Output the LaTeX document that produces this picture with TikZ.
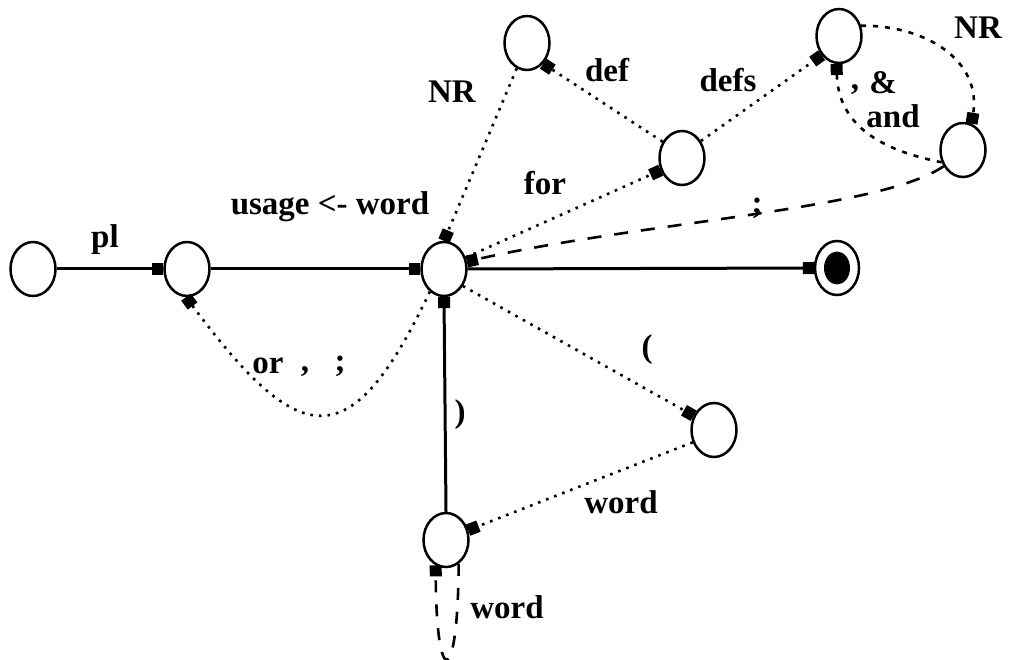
\documentclass[tikz,border=0pt]{standalone}
\usepackage{fontspec}
\setmainfont{Liberation Serif}
\usetikzlibrary{arrows.meta,shapes.geometric}
\begin{document}
\begin{tikzpicture}[x=1pt,y=-1pt,
  st/.style={draw,line width=2.5pt,ellipse,minimum width=45pt,minimum height=54pt,inner sep=0pt,outer sep=1.2pt},
  fin/.style={draw,line width=2.5pt,ellipse,minimum width=44pt,minimum height=54pt,inner sep=0pt,outer sep=1.2pt},
  tr/.style={line width=2.6pt,-{Square[length=11pt,width=12pt]}},
  sol/.style={tr,line width=3pt},
  dot/.style={tr,dash pattern=on 2.6pt off 6pt},
  dsh/.style={tr,dash pattern=on 14pt off 13pt},
  ddsh/.style={tr,dash pattern=on 5pt off 7pt},
  lab/.style={font=\bfseries\fontsize{33}{33}\selectfont,inner sep=0pt}]
\useasboundingbox (0,0) rectangle (1013,660);
\clip (0,0) rectangle (1013,660);
% states
\node[st] (A) at (33,269) {};
\node[st] (B) at (187,269) {};
\node[st] (C) at (444,269) {};
\node[fin] (Fin) at (837,268) {};
\node[fill,ellipse,minimum width=26pt,minimum height=33pt,inner sep=0pt] (Fdot) at (Fin.center) {};
\node[st] (D) at (527,43) {};
\node[st] (E) at (682,158) {};
\node[st] (F) at (839,36) {};
\node[st] (G) at (963,150) {};
\node[st] (H) at (714,430) {};
\node[st] (I) at (446,540) {};
\coordinate (loopA) at (458,690);
\coordinate (loopB) at (436,690);
% transitions
\draw[sol] (A.east) -- (B.west);
\draw[sol] (B.east) -- (C.west);
\draw[sol] (C.east) -- (Fin.west);
\draw[dot] (D.-112) -- (C.north);
\draw[dot] (E.140) -- (D.-52);
\draw[dot] (C.28) -- (E.-150);
\draw[dot] (E.42) -- (F.-132);
\draw[ddsh] (F.25) .. controls (925,25) and (982,60) .. (G.72);
\draw[ddsh] (G.-150) .. controls (880,150) and (838,125) .. (F.-95);
\draw[dsh] (G.-140) .. controls (880,210) and (640,222) .. (C.18);
\draw[dot] (C.-42) -- (H.145);
\draw[dot] (H.-150) -- (I.24);
\draw[sol] (I.north) -- (C.south);
\draw[dot] (C.-122) .. controls (350,460) and (300,450) .. (B.-92);
\draw[tr,dash pattern=on 12pt off 12pt] (I.-62) .. controls (loopA) and (loopB) .. (I.-112);
% labels
\node[lab] (lpl) at (105,240) {pl};
\node[lab] (lusage) at (330,207) {usage <- word};
\node[lab] (lnr1) at (452,92) {NR};
\node[lab] (ldef) at (607,70) {def};
\node[lab] (ldefs) at (728,80) {defs};
\node[lab] (lfor) at (545,183) {for};
\node[lab] (lsemi1) at (757,208) {;};
\node[lab] (lnr2) at (978,28) {NR};
\node[lab] (lcomma1) at (855,90) {,};
\node[lab] (lamp) at (883,83) {\&};
\node[lab] (land) at (893,116) {and};
\node[lab] (lor) at (268,366) {or};
\node[lab] (lcomma2) at (305,372) {,};
\node[lab] (lsemi2) at (340,366) {;};
\node[lab] (lrp) at (460,415) {)};
\node[lab] (llp) at (647,350) {(};
\node[lab] (lword1) at (621,502) {word};
\node[lab] (lword2) at (507,607) {word};
\end{tikzpicture}
\end{document}
